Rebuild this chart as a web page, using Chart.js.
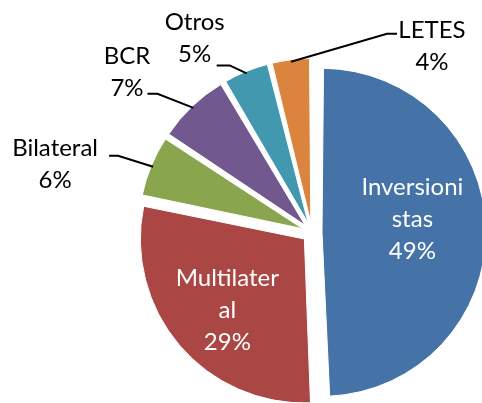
<!DOCTYPE html>
<html>
<head>
<meta charset="utf-8">
<script src="https://cdn.jsdelivr.net/npm/chart.js@4.4.0/dist/chart.umd.min.js"></script>
<style>
  html, body { margin: 0; padding: 0; background: #fff; }
</style>
</head>
<body>
<canvas id="deuda-plot" width="482" height="403"></canvas>
<script>
// Deuda por acreedor

const categories = ['Inversionistas', 'Multilateral', 'Bilateral', 'BCR', 'Otros', 'LETES'];
const shares = [49.4, 28.8, 6.1, 7.2, 4.6, 3.9];
// how the labels wrap in the picture
const labelLines = [['Inversioni', 'stas'], ['Multilater', 'al'], ['Bilateral'], ['BCR'], ['Otros'], ['LETES']];
const colors = ['#4572A7', '#AA4643', '#89A54E', '#71588F', '#4198AF', '#DB843D'];

const EXPLODE = 40; // chart.js moves arcs by offset/4 -> 10px

const pieLabels = {
  id: 'pieLabels',
  beforeDatasetDraw(chart, args) {
    // chart.js grows the radius of offset arcs, keep every slice the same size
    const meta = args.meta;
    const R = meta.controller.outerRadius;
    meta.data.forEach(arc => {
      const o = (arc.options.offset || 0) / 4;
      const circ = arc.endAngle - arc.startAngle;
      arc.outerRadius = R - o * (1 - Math.sin(Math.min(Math.PI, circ)));
    });
  },
  afterDatasetDraw(chart, args, opts) {
    const ctx = chart.ctx;
    const meta = args.meta;
    const R = meta.controller.outerRadius;
    const total = shares.reduce((a, b) => a + b, 0);
    meta.data.forEach((arc, i) => {
      const mid = (arc.startAngle + arc.endAngle) / 2;
      const o = (arc.options.offset || 0) / 4;
      const cx = arc.x + Math.cos(mid) * o;
      const cy = arc.y + Math.sin(mid) * o;
      const lines = labelLines[i].concat(Math.round(shares[i] / total * 100) + '%');
      const p = opts.place[i];
      let lx, ly;
      ctx.save();
      ctx.font = opts.font;
      ctx.textAlign = 'center';
      ctx.textBaseline = 'middle';
      if (p.inside) {
        lx = cx + Math.cos(mid) * R * p.r + p.dx;
        ly = cy + Math.sin(mid) * R * p.r + p.dy;
        ctx.fillStyle = '#fff';
      } else {
        const ax = cx + Math.cos(mid) * (R - 2);
        const ay = cy + Math.sin(mid) * (R - 2);
        ctx.strokeStyle = '#000';
        ctx.lineWidth = 2;
        ctx.beginPath();
        ctx.moveTo(ax, ay);
        ctx.lineTo(ax + p.elbow[0], ay + p.elbow[1]);
        ctx.lineTo(ax + p.elbow[0] + p.tail, ay + p.elbow[1]);
        ctx.stroke();
        lx = ax + p.dx;
        ly = ay + p.dy;
        ctx.fillStyle = '#000';
      }
      lines.forEach((t, k) => ctx.fillText(t, lx, ly + (k - (lines.length - 1) / 2) * opts.lineHeight));
      ctx.restore();
    });
  }
};

new Chart('deuda-plot', {
  type: 'pie',
  data: {
    labels: categories,
    datasets: [{
      data: shares,
      backgroundColor: colors,
      borderColor: '#ffffff',
      borderWidth: 1,
      offset: EXPLODE,
      radius: 164,
      clip: false
    }]
  },
  options: {
    responsive: false,
    animation: false,
    events: [],
    layout: {
      padding: { left: 142, top: 62, right: 0, bottom: 0 }
    },
    plugins: {
      legend: { display: false },
      tooltip: { enabled: false },
      pieLabels: {
        font: '24px Lato',
        lineHeight: 32,
        place: [
          { inside: true, r: 0.6, dx: -8, dy: -11 },
          { inside: true, r: 0.6, dx: -2, dy: 8 },
          { elbow: [-35, -11], tail: -9, dx: -98, dy: -2.5 },
          { elbow: [-36, -14], tail: -10, dx: -66.5, dy: -35.5 },
          { elbow: [-17, -8], tail: -13, dx: -52, dy: -35.5 },
          { elbow: [96, -28], tail: 10, dx: 141, dy: -16 }
        ]
      }
    }
  },
  plugins: [pieLabels]
});
</script>
</body>
</html>
